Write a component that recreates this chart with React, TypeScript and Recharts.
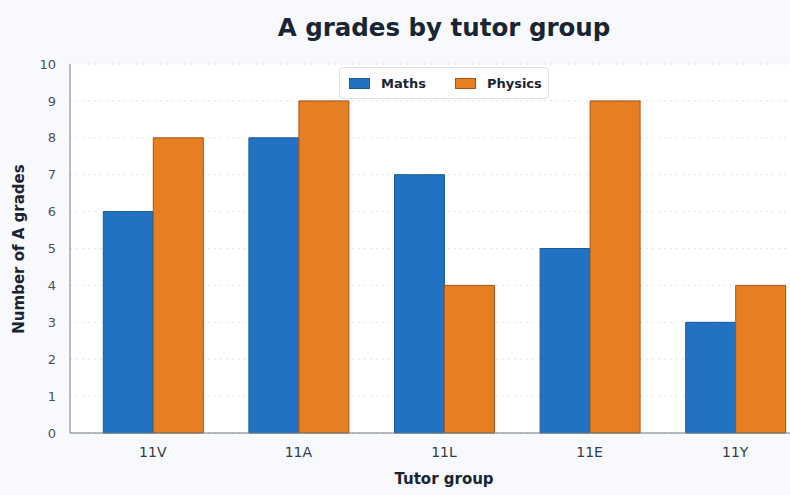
import { BarChart, Bar, XAxis, YAxis, CartesianGrid } from 'recharts'

const groups = ['11V', '11A', '11L', '11E', '11Y']
const maths = [6, 8, 7, 5, 3]
const physics = [8, 9, 4, 9, 4]
const yTicks = [0, 1, 2, 3, 4, 5, 6, 7, 8, 9, 10]

const rows = groups.map((g, i) => ({ group: g, maths: maths[i], physics: physics[i] }))

const FONT = '"DejaVu Sans", sans-serif'
const INK = '#1a2533'

function LegendBox() {
  const item = (color: string, stroke: string, label: string) => (
    <div style={{ display: 'flex', alignItems: 'center' }}>
      <div style={{ width: 19, height: 9, background: color, border: `1px solid ${stroke}`, marginRight: 11 }} />
      <span style={{ fontWeight: 'bold', fontSize: 13, color: INK }}>{label}</span>
    </div>
  )
  return (
    <div
      style={{
        position: 'absolute',
        left: 339,
        top: 67,
        width: 199,
        height: 30,
        boxSizing: 'content-box',
        display: 'flex',
        alignItems: 'center',
        paddingLeft: 9,
        background: '#fff',
        border: '1px solid #dde2e8',
        borderRadius: 4,
      }}
    >
      {item('#2272c3', '#1d5a9a', 'Maths')}
      <div style={{ width: 29 }} />
      {item('#e67e22', '#a4561a', 'Physics')}
    </div>
  )
}

export default function App() {
  return (
    <div
      style={{
        position: 'absolute',
        left: 0,
        top: 0,
        width: 790,
        height: 495,
        overflow: 'hidden',
        background: '#f7f9fc',
        fontFamily: FONT,
      }}
    >
      <div
        style={{
          position: 'absolute',
          top: 13,
          left: 0,
          width: 888,
          textAlign: 'center',
          fontWeight: 'bold',
          fontSize: 24.5,
          color: INK,
        }}
      >
        A grades by tutor group
      </div>
      <div
        style={{
          position: 'absolute',
          left: 19,
          top: 249,
          transform: 'translate(-50%, -50%) rotate(-90deg)',
          whiteSpace: 'nowrap',
          fontWeight: 'bold',
          fontSize: 15,
          color: INK,
        }}
      >
        Number of A grades
      </div>
      <div
        style={{
          position: 'absolute',
          top: 470,
          left: 0,
          width: 888,
          textAlign: 'center',
          fontWeight: 'bold',
          fontSize: 15,
          color: INK,
        }}
      >
        Tutor group
      </div>
      <BarChart
        width={820}
        height={495}
        data={rows}
        margin={{ top: 64, right: 2, left: 0, bottom: 32 }}
        barCategoryGap="16%"
        barGap={0}
        style={{ position: 'absolute', left: 0, top: 0 }}
      >
        <CartesianGrid vertical={false} fill="#ffffff" stroke="#dfe3e8" strokeDasharray="2 4" />
        <XAxis
          dataKey="group"
          height={30}
          stroke="#6f7c85"
          tickLine={false}
          padding={{ left: 10, right: 10 }}
          tick={{ fontSize: 14, fill: '#333d47', fontFamily: FONT }}
          tickMargin={8}
        />
        <YAxis
          domain={[0, 10]}
          ticks={yTicks}
          width={70}
          stroke="#6f7c85"
          tickLine={false}
          tick={{ fontSize: 13, fill: '#4a525a', fontFamily: FONT }}
          tickMargin={8}
        />
        <Bar dataKey="maths" name="Maths" fill="#2272c3" stroke="#1d5a9a" strokeWidth={1} isAnimationActive={false} />
        <Bar dataKey="physics" name="Physics" fill="#e67e22" stroke="#a4561a" strokeWidth={1} isAnimationActive={false} />
      </BarChart>
      <LegendBox />
    </div>
  )
}
